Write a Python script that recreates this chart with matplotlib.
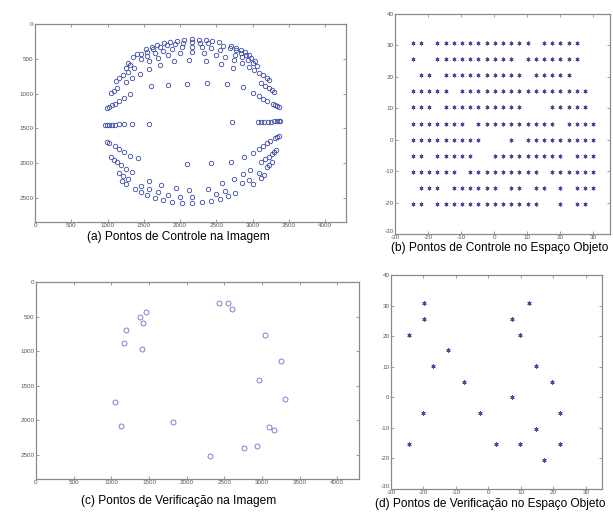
import matplotlib.pyplot as plt

plt.rcParams['font.family'] = ['Liberation Sans', 'DejaVu Sans']
plt.rcParams['axes.unicode_minus'] = False

# (a) control points in the image (pixels), one list pair per object-space row
img_row_31_x = [1353, 1408, 1536, 1609, 1689, 1776, 1864, 1959, 2058, 2158, 2258, 2356, 2447, 2539, 2703, 2773, 2840, 2902, 2955]
img_row_31_y = [468, 432, 364, 331, 299, 275, 255, 238, 226, 221, 225, 230, 244, 262, 314, 343, 375, 407, 442]
img_row_26_x = [1278, 1463, 1541, 1628, 1723, 1822, 1931, 2044, 2159, 2275, 2387, 2592, 2686, 2772, 2847, 2916, 2977, 3029]
img_row_26_y = [554, 438, 400, 362, 331, 305, 283, 270, 264, 267, 277, 318, 347, 380, 414, 451, 488, 526]
img_row_20_x = [1248, 1310, 1459, 1551, 1655, 1766, 1891, 2024, 2161, 2297, 2429, 2548, 2764, 2855, 2932, 3001, 3061]
img_row_20_y = [627, 585, 499, 455, 415, 382, 353, 335, 326, 331, 346, 369, 439, 478, 516, 558, 598]
img_row_15_x = [1114, 1163, 1220, 1285, 1364, 1568, 1691, 1835, 1995, 2164, 2331, 2489, 2626, 2750, 2858, 2949, 3024, 3090, 3146, 3192, 3231]
img_row_15_y = [814, 774, 731, 686, 639, 537, 489, 447, 418, 406, 414, 439, 475, 521, 568, 614, 658, 700, 740, 778, 810]
img_row_10_x = [1043, 1083, 1132, 1260, 1344, 1449, 1577, 1720, 1910, 2130, 2355, 2560, 2725, 3118, 3176, 3224, 3263, 3295]
img_row_10_y = [995, 961, 923, 835, 778, 714, 647, 584, 535, 515, 532, 577, 632, 850, 889, 924, 955, 982]
img_row_5_x = [989, 1023, 1063, 1108, 1160, 1224, 1309, 1601, 1840, 2095, 2375, 2650, 2865, 3006, 3086, 3148, 3198, 3282, 3315, 3342, 3364]
img_row_5_y = [1213, 1194, 1171, 1145, 1111, 1067, 1011, 895, 875, 862, 850, 860, 905, 987, 1036, 1076, 1107, 1151, 1170, 1185, 1199]
img_row_0_x = [969, 992, 1015, 1061, 1107, 1153, 1222, 1338, 1568, 2722, 3069, 3114, 3160, 3206, 3252, 3298, 3335, 3360, 3380]
img_row_0_y = [1449, 1448, 1447, 1447, 1446, 1445, 1443, 1441, 1437, 1414, 1406, 1405, 1404, 1403, 1403, 1402, 1401, 1401, 1400]
img_row_m5_x = [989, 1023, 1108, 1160, 1224, 1309, 1420, 2100, 2420, 2705, 2888, 3006, 3086, 3148, 3198, 3244, 3315, 3342, 3364]
img_row_m5_y = [1694, 1713, 1761, 1795, 1839, 1893, 1930, 2010, 2005, 1985, 1915, 1849, 1793, 1749, 1715, 1688, 1645, 1627, 1612]
img_row_m10_x = [1043, 1083, 1132, 1189, 1260, 1344, 1577, 1744, 1945, 2130, 2380, 2585, 2741, 2869, 2971, 3118, 3176, 3224, 3263, 3295, 3322]
img_row_m10_y = [1920, 1953, 1991, 2032, 2079, 2135, 2261, 2321, 2364, 2385, 2370, 2294, 2230, 2159, 2093, 1987, 1943, 1906, 1871, 1842, 1814]
img_row_m15_x = [1163, 1220, 1285, 1458, 1568, 1691, 1835, 1995, 2164, 2489, 2626, 2858, 2949, 3090, 3192, 3231, 3263]
img_row_m15_y = [2147, 2190, 2233, 2329, 2378, 2422, 2460, 2485, 2491, 2442, 2398, 2293, 2240, 2144, 2059, 2023, 1988]
img_row_m20_x = [1195, 1248, 1378, 1459, 1551, 1655, 1766, 1891, 2024, 2161, 2297, 2429, 2548, 2662, 2764, 3001, 3113, 3156]
img_row_m20_y = [2256, 2297, 2378, 2422, 2464, 2502, 2533, 2557, 2571, 2575, 2563, 2542, 2514, 2475, 2432, 2297, 2211, 2172]

img_rows = [(img_row_31_x, img_row_31_y), (img_row_26_x, img_row_26_y),
            (img_row_20_x, img_row_20_y), (img_row_15_x, img_row_15_y),
            (img_row_10_x, img_row_10_y), (img_row_5_x, img_row_5_y),
            (img_row_0_x, img_row_0_y), (img_row_m5_x, img_row_m5_y),
            (img_row_m10_x, img_row_m10_y), (img_row_m15_x, img_row_m15_y),
            (img_row_m20_x, img_row_m20_y)]

# (b) control points in object space: grid columns, rows and which cells exist
obj_cols = [-24.6, -22.1, -19.6, -17.2, -14.7, -12.2, -9.7, -7.3, -4.8, -2.3, 0.2, 2.7,
            5.2, 7.6, 10.1, 12.6, 15.1, 17.5, 20.0, 22.5, 25.0, 27.4, 29.9]
obj_rows = [30.8, 25.7, 20.5, 15.4, 10.3, 5.1, 0.0, -5.1, -10.3, -15.4, -20.5]
obj_used = [
    "11011111111111101111100",
    "10011111111110111111100",
    "01101111111111011111000",
    "11111011111111111111110",
    "11101111111111000111110",
    "11111110111111111101111",
    "11111111100010111111111",
    "11011111001111111110111",
    "11111101111111110111111",
    "01110111111011011010111",
    "11011111111111110010110",
]

# (c) check points in the image
img_chk_x = [2427, 2550, 2608, 1459, 1383, 1419, 1198, 1171, 1410, 3045, 3257,
             2961, 3306, 1043, 1123, 1817, 3090, 3156, 2930, 2758, 2312]
img_chk_y = [298, 303, 385, 437, 500, 587, 692, 880, 966, 764, 1135,
             1413, 1697, 1731, 2087, 2024, 2101, 2139, 2365, 2404, 2519]

# (d) check points in object space
obj_chk_x = [-19.8, -19.8, -24.6, -12.3, -17.2, -7.4, -20.0, -24.6, -2.6, 2.4, 7.2,
             7.3, 12.4, 9.8, 14.7, 19.6, 22.1, 14.7, 9.8, 22.1, 17.2]
obj_chk_y = [30.9, 25.7, 20.5, 15.4, 10.1, 5.0, -5.1, -15.3, -5.1, -15.3, 0.0,
             25.7, 30.9, 20.5, 10.1, 5.0, -5.1, -10.3, -15.3, -15.3, -20.4]

captions = ["(a) Pontos de Controle na Imagem",
            "(b) Pontos de Controle no Espaço Objeto",
            "(c) Pontos de Verificação na Imagem",
            "(d) Pontos de Verificação no Espaço Objeto"]

W, H = 613, 513
fig = plt.figure(figsize=(W / 100, H / 100), dpi=100)


def box(left, top, right, bottom):
    return [left / W, 1 - bottom / H, (right - left) / W, (bottom - top) / H]


def style(ax):
    for s in ax.spines.values():
        s.set_color('#8a8a8a')
        s.set_linewidth(0.9)
    ax.tick_params(direction='in', length=2.5, width=0.5, color='#777777',
                   labelsize=4.5, labelcolor='#555555', pad=1.0,
                   top=True, right=True)


ax_a = fig.add_axes(box(35, 24, 346, 222))
ax_b = fig.add_axes(box(395, 14, 610, 234))
ax_c = fig.add_axes(box(36, 282, 359, 479))
ax_d = fig.add_axes(box(391, 275, 602, 489))

circ = dict(linestyle='none', marker='o', markerfacecolor='none')
star = dict(linestyle='none', marker=(6, 2, 0))

for xs, ys in img_rows:
    ax_a.plot(xs, ys, markersize=3.2, markeredgewidth=0.6,
              markeredgecolor='#3d4ca6', **circ)
ax_c.plot(img_chk_x, img_chk_y, markersize=3.6, markeredgewidth=0.6,
          markeredgecolor='#6c6cc8', **circ)

bx, by = [], []
for yv, used in zip(obj_rows, obj_used):
    for xv, flag in zip(obj_cols, used):
        if flag == "1":
            bx.append(xv)
            by.append(yv)
ax_b.plot(bx, by, markersize=2.8, markeredgewidth=0.6, color='#454a95', **star)
ax_d.plot(obj_chk_x, obj_chk_y, markersize=3.0, markeredgewidth=0.6, color='#454a95', **star)

for ax in (ax_a, ax_c):
    ax.set_xlim(0, 4288)
    ax.set_ylim(2848, 0)
    ax.set_xticks(range(0, 4001, 500))
    ax.set_yticks(range(0, 2501, 500))
    style(ax)

for ax in (ax_b, ax_d):
    ax.set_xlim(-30, 35)
    ax.set_ylim(-30, 40)
    ax.set_xticks(range(-30, 31, 10))
    ax.set_yticks(range(-30, 41, 10))
    style(ax)
    # the corner label sits a little higher, as in the original
    ax.yaxis.get_major_ticks()[0].label1.set_verticalalignment('bottom')

fig.text(178 / W, 1 - 237 / H, captions[0], ha='center', va='center', fontsize=8.6)
fig.text(500 / W, 1 - 248 / H, captions[1], ha='center', va='center', fontsize=8.6)
fig.text(179 / W, 1 - 501 / H, captions[2], ha='center', va='center', fontsize=8.6)
fig.text(490 / W, 1 - 504 / H, captions[3], ha='center', va='center', fontsize=8.6)

fig.savefig('out.png', dpi=100)
